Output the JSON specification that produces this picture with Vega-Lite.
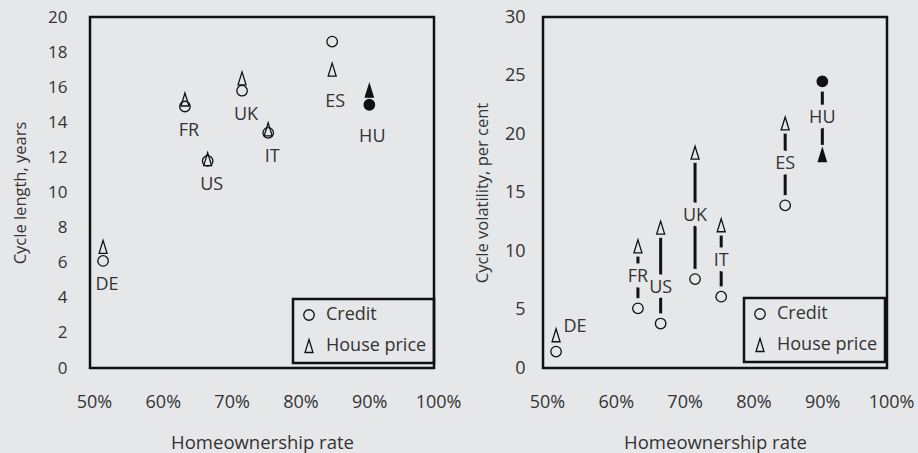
{
  "$schema": "https://vega.github.io/schema/vega-lite/v6.json",
  "background": "#e6e7e9",
  "padding": {"left": 11, "top": 6, "right": 5, "bottom": 5},
  "datasets": {
    "pts": [
      {"country": "DE", "own": 0.519, "measure": "Credit", "length": 6.1, "volatility": 1.4},
      {"country": "DE", "own": 0.519, "measure": "House price", "length": 6.9, "volatility": 2.8},
      {"country": "FR", "own": 0.638, "measure": "Credit", "length": 14.9, "volatility": 5.1},
      {"country": "FR", "own": 0.638, "measure": "House price", "length": 15.3, "volatility": 10.4},
      {"country": "US", "own": 0.671, "measure": "Credit", "length": 11.8, "volatility": 3.8},
      {"country": "US", "own": 0.671, "measure": "House price", "length": 11.9, "volatility": 12.0},
      {"country": "UK", "own": 0.721, "measure": "Credit", "length": 15.8, "volatility": 7.6},
      {"country": "UK", "own": 0.721, "measure": "House price", "length": 16.5, "volatility": 18.4},
      {"country": "IT", "own": 0.759, "measure": "Credit", "length": 13.4, "volatility": 6.1},
      {"country": "IT", "own": 0.759, "measure": "House price", "length": 13.6, "volatility": 12.2},
      {"country": "ES", "own": 0.852, "measure": "Credit", "length": 18.6, "volatility": 13.9},
      {"country": "ES", "own": 0.852, "measure": "House price", "length": 17.0, "volatility": 20.9},
      {"country": "HU", "own": 0.906, "measure": "Credit", "length": 15.0, "volatility": 24.5},
      {"country": "HU", "own": 0.906, "measure": "House price", "length": 15.8, "volatility": 18.2}
    ]
  },
  "data": {"name": "pts"},
  "spacing": 109,
  "bounds": "flush",
  "resolve": {"scale": {"shape": "independent", "x": "independent", "y": "independent"}, "legend": {"shape": "independent"}},
  "hconcat": [
    {
      "width": 344,
      "height": 351,
      "encoding": {
        "x": {"field": "own", "type": "quantitative", "scale": {"domain": [0.5, 1.0], "zero": false, "nice": false},
              "axis": {"title": "Homeownership rate", "format": ".0%", "values": [0.5, 0.6, 0.7, 0.8, 0.9, 1.0], "labelPadding": 25, "titlePadding": 22, "labelOffset": 4}},
        "y": {"field": "length", "type": "quantitative", "scale": {"domain": [0, 20], "nice": false},
              "axis": {"title": "Cycle length, years", "values": [0, 2, 4, 6, 8, 10, 12, 14, 16, 18, 20], "labelOverlap": false, "labelFontSize": 17, "labelPadding": 23, "titlePadding": 19}}
      },
      "layer": [
        {
          "mark": {"type": "point", "filled": true, "stroke": "#111", "strokeWidth": 1.3, "opacity": 1, "size": 110},
          "encoding": {
            "shape": {"field": "measure", "type": "nominal",
                      "scale": {"domain": ["Credit", "House price"], "range": ["circle", "M0,-1.24L0.76,1.24L-0.76,1.24Z"]},
                      "legend": {"title": null, "orient": "none", "legendX": 203, "legendY": 282}},
            "fill": {"condition": {"test": "datum.country === 'HU'", "value": "#111"}, "value": "transparent"}
          }
        },
        {
          "transform": [{"filter": "datum.country !== 'ES' && datum.country !== 'HU'"}],
          "mark": {"type": "text", "dx": 4, "dy": 24, "baseline": "middle"},
          "encoding": {
            "y": {"aggregate": "min", "field": "length", "type": "quantitative"},
            "text": {"field": "country", "type": "nominal"}
          }
        },
        {
          "transform": [{"filter": "datum.country === 'ES' || datum.country === 'HU'"}],
          "mark": {"type": "text", "dx": 3, "dy": 32, "baseline": "middle"},
          "encoding": {
            "y": {"aggregate": "min", "field": "length", "type": "quantitative"},
            "text": {"field": "country", "type": "nominal"}
          }
        }
      ]
    },
    {
      "width": 344,
      "height": 351,
      "encoding": {
        "x": {"field": "own", "type": "quantitative", "scale": {"domain": [0.5, 1.0], "zero": false, "nice": false},
              "axis": {"title": "Homeownership rate", "format": ".0%", "values": [0.5, 0.6, 0.7, 0.8, 0.9, 1.0], "labelPadding": 25, "titlePadding": 22, "labelOffset": 4}},
        "y": {"field": "volatility", "type": "quantitative", "scale": {"domain": [0, 30], "nice": false},
              "axis": {"title": "Cycle volatility, per cent", "values": [0, 5, 10, 15, 20, 25, 30], "labelPadding": 18, "titlePadding": 14}}
      },
      "layer": [
        {
          "mark": {"type": "rule", "color": "#111", "strokeWidth": 3},
          "encoding": {
            "y": {"aggregate": "min", "field": "volatility", "type": "quantitative"},
            "y2": {"aggregate": "max", "field": "volatility"},
            "detail": {"field": "country", "type": "nominal"}
          }
        },
        {
          "mark": {"type": "point", "shape": "circle", "filled": true, "color": "#e6e7e9", "size": 430, "opacity": 1, "strokeWidth": 0}
        },
        {
          "transform": [{"filter": "datum.country !== 'DE' && datum.country !== 'US'"}],
          "mark": {"type": "text", "baseline": "middle", "stroke": "#e6e7e9", "strokeWidth": 11, "strokeJoin": "round", "color": "#e6e7e9"},
          "encoding": {
            "y": {"aggregate": "mean", "field": "volatility", "type": "quantitative"},
            "text": {"field": "country", "type": "nominal"}
          }
        },
        {
          "transform": [{"filter": "datum.country === 'US'"}],
          "mark": {"type": "text", "baseline": "middle", "dy": 12, "stroke": "#e6e7e9", "strokeWidth": 11, "strokeJoin": "round", "color": "#e6e7e9"},
          "encoding": {
            "y": {"aggregate": "mean", "field": "volatility", "type": "quantitative"},
            "text": {"field": "country", "type": "nominal"}
          }
        },
        {
          "mark": {"type": "point", "filled": true, "stroke": "#111", "strokeWidth": 1.3, "opacity": 1, "size": 110},
          "encoding": {
            "shape": {"field": "measure", "type": "nominal",
                      "scale": {"domain": ["Credit", "House price"], "range": ["circle", "M0,-1.24L0.76,1.24L-0.76,1.24Z"]},
                      "legend": {"title": null, "orient": "none", "legendX": 201, "legendY": 281}},
            "fill": {"condition": {"test": "datum.country === 'HU'", "value": "#111"}, "value": "transparent"}
          }
        },
        {
          "transform": [{"filter": "datum.country !== 'DE' && datum.country !== 'US'"}],
          "mark": {"type": "text", "baseline": "middle"},
          "encoding": {
            "y": {"aggregate": "mean", "field": "volatility", "type": "quantitative"},
            "text": {"field": "country", "type": "nominal"}
          }
        },
        {
          "transform": [{"filter": "datum.country === 'US'"}],
          "mark": {"type": "text", "baseline": "middle", "dy": 12},
          "encoding": {
            "y": {"aggregate": "mean", "field": "volatility", "type": "quantitative"},
            "text": {"field": "country", "type": "nominal"}
          }
        },
        {
          "transform": [{"filter": "datum.country === 'DE'"}],
          "mark": {"type": "text", "baseline": "middle", "dx": 19, "dy": -16},
          "encoding": {
            "y": {"aggregate": "mean", "field": "volatility", "type": "quantitative"},
            "text": {"field": "country", "type": "nominal"}
          }
        }
      ]
    }
  ],
  "config": {
    "font": "Open Sans",
    "view": {"stroke": "#111", "strokeWidth": 2.5},
    "axis": {"domain": false, "ticks": false, "grid": false, "labelFlush": false, "labelOverlap": false, "labelFont": "Open Sans", "labelFontSize": 18, "labelColor": "#333",
             "titleFont": "Open Sans", "titleFontSize": 18.5, "titleFontWeight": "normal", "titleColor": "#333"},
    "axisY": {"titleFontSize": 16.5, "labelOverlap": false},
    "legend": {"strokeColor": "#111", "strokeWidth": 2.5, "padding": 7, "rowPadding": 12, "labelFont": "Open Sans", "labelFontSize": 18, "labelColor": "#333",
               "symbolSize": 110, "symbolStrokeColor": "#111", "symbolFillColor": "transparent", "symbolStrokeWidth": 1.3, "labelOffset": 8},
    "text": {"font": "Open Sans", "fontSize": 18, "color": "#333"}
  }
}
